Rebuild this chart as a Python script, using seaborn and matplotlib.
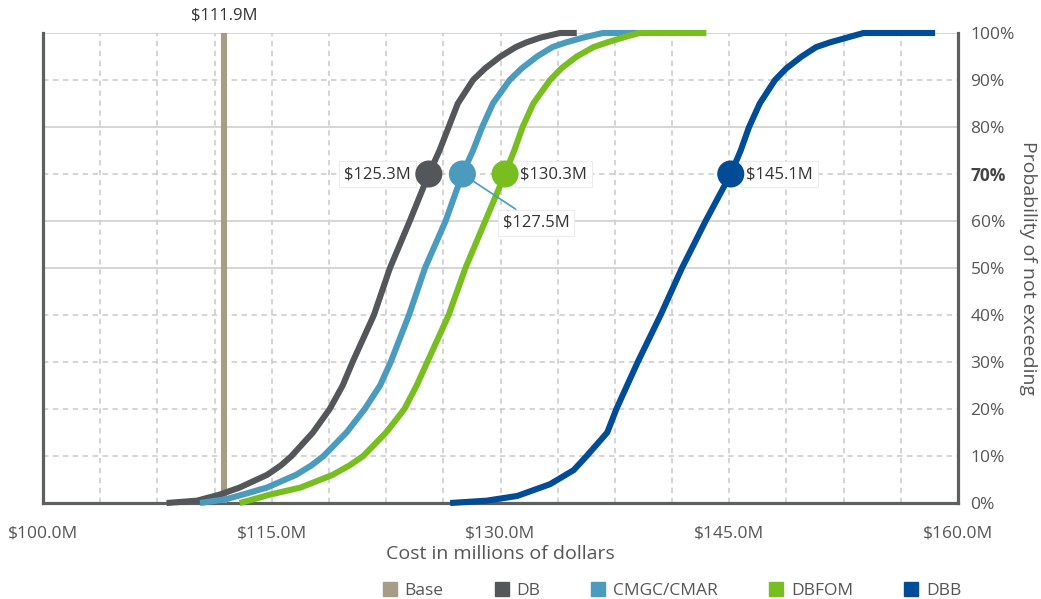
import numpy as np
import pandas as pd
import matplotlib
matplotlib.use("Agg")
import matplotlib.pyplot as plt
from matplotlib.lines import Line2D
from matplotlib.ticker import FixedLocator, FuncFormatter
import seaborn as sns

# ---------------- data ----------------
series_names = ["Base", "DB", "CMGC/CMAR", "DBFOM", "DBB"]
series_colors = ["#a59d86", "#54575a", "#4a9bbd", "#78be20", "#004c97"]

base_cost = [111.9, 111.9]
base_prob = [0, 100]

db_cost = [108.1, 110.1, 111.6, 112.9, 114.7, 115.6, 116.3, 117.7, 118.8, 119.65, 120.3, 121.7,
           122.75, 124.05, 125.3, 126.0, 126.6, 127.2, 128.2, 129.0, 130.0, 131.0, 131.7,
           132.6, 133.9, 135.0]
db_prob = [0, 0.5, 1.8, 3.3, 6, 8, 10, 15, 20, 25, 30, 40,
           50, 60, 70, 75, 80, 85, 90, 92.5, 95, 97, 98,
           99, 100, 100]

cm_cost = [110.3, 112.0, 113.1, 114.7, 116.6, 117.6, 118.4, 119.9, 121.1, 122.1, 122.8, 124.0,
           125.05, 126.4, 127.5, 128.2, 128.8, 129.5, 130.6, 131.4, 132.4, 133.4, 134.3,
           135.4, 136.7, 139.0]
cm_prob = [0, 0.8, 1.8, 3.3, 6, 8, 10, 15, 20, 25, 30, 40,
           50, 60, 70, 75, 80, 85, 90, 92.5, 95, 97, 98,
           99, 100, 100]

dbfom_cost = [112.9, 113.8, 114.9, 116.9, 119.0, 120.1, 121.0, 122.5, 123.7, 124.5, 125.2, 126.6,
              127.7, 129.0, 130.3, 130.9, 131.45, 132.15, 133.25, 134.0, 135.0, 136.1, 137.0,
              138.0, 139.1, 143.5]
dbfom_prob = [0, 0.8, 1.8, 3.3, 6, 8, 10, 15, 20, 25, 30, 40,
              50, 60, 70, 75, 80, 85, 90, 92.5, 95, 97, 98,
              99, 100, 100]

dbb_cost = [126.7, 129.1, 131.1, 133.25, 134.8, 135.65, 137.0, 137.6, 138.3, 139.0, 140.5,
            141.9, 143.45, 145.1, 145.75, 146.3, 147.0, 148.0, 148.75, 149.75, 150.7, 151.6,
            152.7, 153.8, 158.5]
dbb_prob = [0, 0.5, 1.5, 4, 7, 10, 15, 20, 25, 30, 40,
            50, 60, 70, 75, 80, 85, 90, 92.5, 95, 97, 98,
            99, 100, 100]

p70_names = ["DB", "CMGC/CMAR", "DBFOM", "DBB"]
p70_costs = [125.3, 127.5, 130.3, 145.1]
p70_level = 70

x_ticks = [100, 115, 130, 145, 160]
y_ticks = [0, 10, 20, 30, 40, 50, 60, 70, 80, 90, 100]

# ---------------- build table ----------------
frames = []
for name, xs, ys in zip(series_names,
                        [base_cost, db_cost, cm_cost, dbfom_cost, dbb_cost],
                        [base_prob, db_prob, cm_prob, dbfom_prob, dbb_prob]):
    frames.append(pd.DataFrame({"cost": xs, "prob": ys, "series": name}))
df = pd.concat(frames, ignore_index=True)
palette = dict(zip(series_names, series_colors))

# ---------------- style ----------------
sns.set_theme(style="white")
plt.rcParams["font.family"] = ["Open Sans", "DejaVu Sans"]
text_col = "#555555"
spine_col = "#5d5f61"
grid_col = "#c9c9c9"

fig = plt.figure(figsize=(10.41, 5.99), dpi=100)
W, H = 1041, 599
ax = fig.add_axes([43 / W, (H - 503) / H, 915 / W, 470 / H])

# grid
ax.set_xlim(100, 160)
ax.set_ylim(0, 100)
for gx in np.arange(100 + 3.75, 160, 3.75):
    ax.axvline(gx, color=grid_col, lw=1.1, ls=(0, (3.5, 3)), zorder=0)
solid_levels = [50, 60, 80, 100]
for gy in y_ticks[1:]:
    if gy in solid_levels:
        ax.axhline(gy, color="#d2d2d2", lw=1.3, ls="-", zorder=0)
    else:
        ax.axhline(gy, color=grid_col, lw=1.1, ls=(0, (3.5, 3)), zorder=0)

# curves
sns.lineplot(data=df, x="cost", y="prob", hue="series", palette=palette,
             hue_order=series_names, sort=False, estimator=None, legend=False,
             linewidth=4.4, ax=ax)
for ln in ax.lines[-5:]:
    ln.set_clip_on(False)
    ln.set_solid_capstyle("butt")
    ln.set_solid_joinstyle("round")
    ln.set_zorder(3)

# 70% markers
p70_df = pd.DataFrame({"cost": p70_costs, "prob": [p70_level] * 4, "series": p70_names})
sns.scatterplot(data=p70_df, x="cost", y="prob", hue="series", palette=palette,
                s=380, edgecolor="none", legend=False, ax=ax, zorder=5)

box = dict(boxstyle="square,pad=0.3", fc="white", ec="#ececec", lw=0.8)
ann_fs = 12
ann_col = "#333333"
ax.annotate(f"${p70_costs[0]:.1f}M", (p70_costs[0], p70_level), xytext=(-13, 0),
            textcoords="offset points", ha="right", va="center", fontsize=ann_fs,
            color=ann_col, bbox=box, zorder=4)
ax.annotate(f"${p70_costs[2]:.1f}M", (p70_costs[2], p70_level), xytext=(11, 0),
            textcoords="offset points", ha="left", va="center", fontsize=ann_fs,
            color=ann_col, bbox=box, zorder=4)
ax.annotate(f"${p70_costs[1]:.1f}M", (p70_costs[1], p70_level), xytext=(29, -35),
            textcoords="offset points", ha="left", va="center", fontsize=ann_fs,
            color=ann_col, bbox=box, zorder=4,
            arrowprops=dict(arrowstyle="-", color=series_colors[2], lw=1.2,
                            shrinkA=0, shrinkB=0))
ax.annotate(f"${p70_costs[3]:.1f}M", (p70_costs[3], p70_level), xytext=(11, 0),
            textcoords="offset points", ha="left", va="center", fontsize=ann_fs,
            color=ann_col, bbox=box, zorder=4)
ax.annotate(f"${base_cost[0]:.1f}M", (base_cost[0], 100), xytext=(0, 7),
            textcoords="offset points", ha="center", va="bottom", fontsize=ann_fs,
            color=ann_col, annotation_clip=False)

# spines
for s in ["left", "bottom", "right"]:
    ax.spines[s].set_color(spine_col)
    ax.spines[s].set_linewidth(2.3)
    ax.spines[s].set_visible(True)
ax.spines["top"].set_visible(False)

# ticks
ax.xaxis.set_major_locator(FixedLocator(x_ticks))
ax.xaxis.set_major_formatter(FuncFormatter(lambda v, p: f"${v:.1f}M"))
ax.yaxis.tick_right()
ax.yaxis.set_label_position("right")
ax.yaxis.set_major_locator(FixedLocator(y_ticks))
ax.yaxis.set_major_formatter(FuncFormatter(lambda v, p: f"{int(v)}%"))
ax.tick_params(axis="x", length=0, pad=16, labelsize=12.5, labelcolor=text_col)
ax.tick_params(axis="y", length=0, pad=9, labelsize=12.5, labelcolor=text_col)
for lab in ax.get_yticklabels():
    if lab.get_text() == "70%":
        lab.set_fontweight("bold")
        lab.set_color("#444444")

ax.set_xlabel("Cost in millions of dollars", fontsize=14, color=text_col, labelpad=3)
ax.set_ylabel("Probability of not exceeding", fontsize=14, color=text_col,
              rotation=270, ha="center", va="center")
ax.yaxis.set_label_coords((1028 - 43) / 915, 0.5)

# legend
handles = [Line2D([], [], marker="s", ls="none", color=c, markersize=10)
           for c in series_colors]
fig.legend(handles, series_names, loc="center", bbox_to_anchor=(672 / W, 1 - 591 / H),
           ncol=5, frameon=False, fontsize=12.5, handlelength=0.8, handletextpad=0.45,
           columnspacing=2.95, labelcolor=text_col)

fig.savefig("out.png", dpi=100, facecolor="white")
